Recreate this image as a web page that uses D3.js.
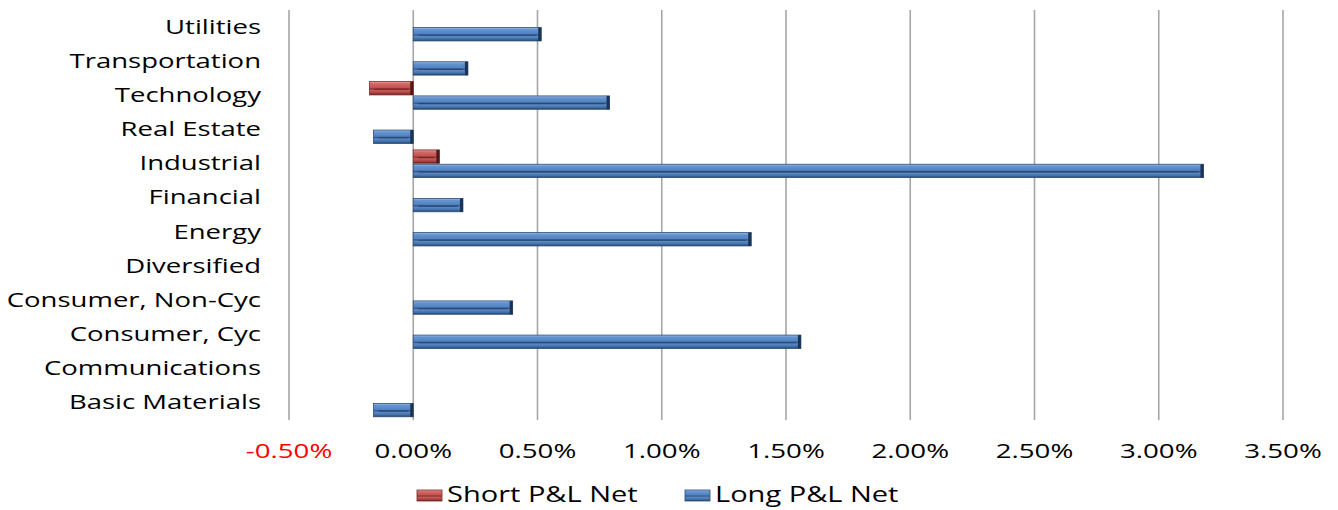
<!DOCTYPE html>
<html>
<head>
<meta charset="utf-8">
<script src="https://cdn.jsdelivr.net/npm/d3@7"></script>
<style>
  body { margin: 0; background: #fff; }
  text { font-family: "Open Sans", sans-serif; }
</style>
</head>
<body>
<svg id="chart"></svg>
<script>
const WIDTH = 1338;
const HEIGHT = 510;

// categories, top to bottom as in the picture
const categories = ["Utilities", "Transportation", "Technology", "Real Estate", "Industrial",
  "Financial", "Energy", "Diversified", "Consumer, Non-Cyc", "Consumer, Cyc",
  "Communications", "Basic Materials"];
const seriesNames = ["Short P&L Net", "Long P&L Net"];
// values in %
const shortPL = [0, 0, -0.176, 0, 0.105, 0, 0, 0, 0, 0, 0, 0];
const longPL = [0.515, 0.22, 0.79, -0.16, 3.18, 0.20, 1.36, 0, 0.40, 1.56, 0, -0.16];
const xTicks = [-0.5, 0, 0.5, 1, 1.5, 2, 2.5, 3, 3.5];

window.onload = function(){
    makeChart();
};

function makeChart(){
    const margin = {left: 289, right: 55, top: 10, bottom: 90};
    const svg = d3.select('#chart').attr('width', WIDTH).attr('height', HEIGHT);

    const x = d3.scaleLinear().domain([-0.5, 3.5]).range([margin.left, WIDTH - margin.right]);
    const y = d3.scaleBand().domain(categories).range([margin.top, HEIGHT - margin.bottom])
        .paddingInner(0.16).paddingOuter(0.08);
    const ySub = d3.scaleBand().domain(seriesNames).range([0, y.bandwidth()]);

    // bevel-ish gradients
    const defs = svg.append('defs');
    const palettes = {
        blue: ['#a3c0e6', '#6494d0', '#5283c2', '#2f5587', '#5b8ac6', '#4271ab', '#24436c'],
        red: ['#e6a5a3', '#d46a67', '#c3524f', '#86302e', '#c95c59', '#aa423f', '#601f1e']
    };
    Object.keys(palettes).forEach(k => {
        const g = defs.append('linearGradient').attr('id', 'grad-' + k)
            .attr('x1', 0).attr('x2', 0).attr('y1', 0).attr('y2', 1);
        const offs = [0, 0.15, 0.45, 0.55, 0.65, 0.85, 1];
        palettes[k].forEach((c, i) => g.append('stop').attr('offset', offs[i]).attr('stop-color', c));
    });

    // gridlines
    svg.append('g').selectAll('line').data(xTicks).enter().append('line')
        .attr('x1', d => x(d)).attr('x2', d => x(d))
        .attr('y1', margin.top).attr('y2', HEIGHT - margin.bottom)
        .style('stroke', '#a6a6a6').style('stroke-width', 1.6);

    // tick labels
    svg.append('g').selectAll('text').data(xTicks).enter().append('text')
        .attr('transform', d => 'translate(' + x(d) + ',458) scale(1.42,1)')
        .attr('text-anchor', 'middle')
        .style('font-size', '19.5px')
        .style('fill', d => d < 0 ? '#ff0000' : '#000')
        .text(d => d.toFixed(2) + '%');

    // category labels
    svg.append('g').selectAll('text').data(categories).enter().append('text')
        .attr('transform', d => 'translate(261,' + (y(d) + y.bandwidth() / 2 + 6.5) + ') scale(1.41,1)')
        .attr('text-anchor', 'end')
        .style('font-size', '19.5px')
        .style('fill', '#000')
        .text(d => d);

    // bars
    const rows = [];
    categories.forEach((c, i) => {
        rows.push({cat: c, series: seriesNames[0], v: shortPL[i], col: 'red'});
        rows.push({cat: c, series: seriesNames[1], v: longPL[i], col: 'blue'});
    });
    const bars = svg.append('g').selectAll('g').data(rows.filter(d => d.v !== 0)).enter().append('g');
    bars.append('rect')
        .attr('x', d => Math.min(x(0), x(d.v)))
        .attr('y', d => y(d.cat) + ySub(d.series) + 0.5)
        .attr('width', d => Math.abs(x(d.v) - x(0)))
        .attr('height', ySub.bandwidth() - 1)
        .style('fill', d => 'url(#grad-' + d.col + ')')
        .style('stroke', d => d.col === 'blue' ? '#2b4c78' : '#7a2b29')
        .style('stroke-width', 0.8);
    // inner line
    bars.append('line')
        .attr('x1', d => Math.min(x(0), x(d.v)) + 5)
        .attr('x2', d => Math.max(x(0), x(d.v)) - 5)
        .attr('y1', d => y(d.cat) + ySub(d.series) + ySub.bandwidth() / 2 + 1)
        .attr('y2', d => y(d.cat) + ySub(d.series) + ySub.bandwidth() / 2 + 1)
        .style('stroke', d => d.col === 'blue' ? '#284872' : '#6e2624')
        .style('stroke-width', 1.2);
    // dark right end cap
    bars.append('rect')
        .attr('x', d => Math.max(x(0), x(d.v)) - 3)
        .attr('y', d => y(d.cat) + ySub(d.series) + 0.5)
        .attr('width', 3)
        .attr('height', ySub.bandwidth() - 1)
        .style('fill', d => d.col === 'blue' ? '#1c3353' : '#4e1a19');

    // legend
    const legend = svg.append('g');
    const legendX = [417, 685];
    seriesNames.forEach((s, i) => {
        const g = legend.append('g').attr('transform', 'translate(' + legendX[i] + ',490)');
        g.append('rect').attr('width', 25).attr('height', 11)
            .style('fill', 'url(#grad-' + (i === 0 ? 'red' : 'blue') + ')')
            .style('stroke', i === 0 ? '#7a2b29' : '#2b4c78').style('stroke-width', 0.8);
        g.append('text')
            .attr('transform', 'translate(30,12) scale(1.35,1)')
            .style('font-size', '21.5px')
            .style('fill', '#000')
            .text(s);
    });
}
</script>
</body>
</html>
